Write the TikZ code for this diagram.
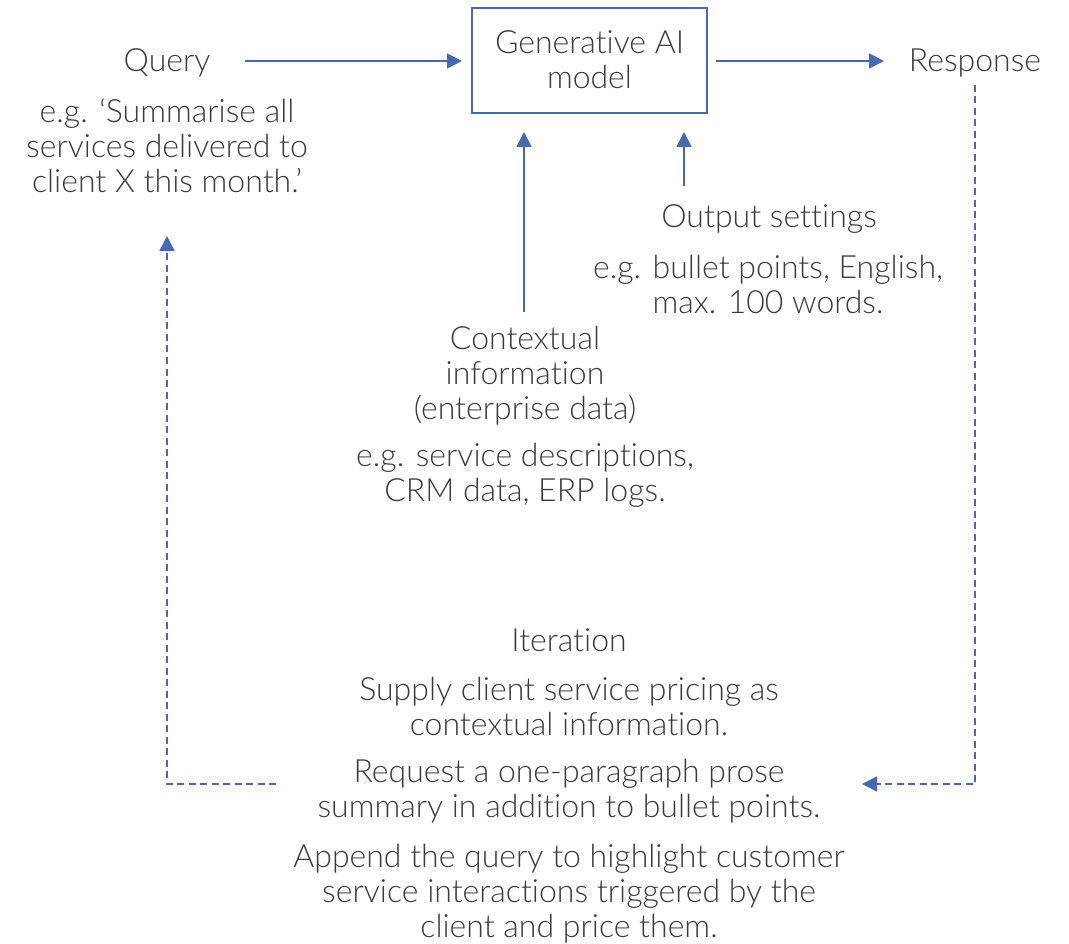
\documentclass[tikz,border=0pt]{standalone}
\usepackage{fontspec}
\setmainfont{Lato Light}[Ligatures={NoCommon,NoDiscretionary}]
\usetikzlibrary{arrows.meta}
\definecolor{arrowblue}{HTML}{4A67B2}
\definecolor{txtgray}{HTML}{3A3A3A}
\tikzset{
  txt/.style={text=txtgray, font=\fontsize{32}{35}\selectfont, align=center, inner sep=0pt},
  conn/.style={draw=arrowblue, line width=1.8pt, -{Triangle[length=15pt,width=15pt]}},
  dconn/.style={draw=arrowblue, line width=1.6pt, dash pattern=on 7pt off 4.5pt, -{Triangle[length=15pt,width=15pt]}},
  modelbox/.style={draw=arrowblue, line width=1.3pt, minimum width=235pt, minimum height=105pt, inner sep=0pt}
}
\begin{document}
\begin{tikzpicture}[x=1pt,y=-1pt]
\useasboundingbox (0,0) rectangle (1069,944);
% model box
\node[modelbox] (model) at (589.5,60.5) {};
\node[txt] (modeltxt) at (589.5,60) {Generative AI\\model};
% query
\node[txt] (query) at (167,63) {Query};
\node[txt] (queryex) at (167,146) {e.g. `Summarise all\\services delivered to\\client X this month.'};
% response
\node[txt] (resp) at (975,63) {Response};
% output settings
\node[txt] (outset) at (769,219) {Output settings};
\node[txt] (outex) at (768,284.5) {e.g. bullet points, English,\\max. 100 words.};
% contextual
\node[txt] (ctx) at (525,375.5) {Contextual\\information\\(enterprise data)};
\node[txt] (ctxex) at (525,475.5) {e.g. service descriptions,\\CRM data, ERP logs.};
% iteration
\node[txt] (iter) at (569,640) {Iteration};
\node[txt] (it1) at (569,706) {Supply client service pricing as\\contextual information.};
\node[txt] (it2) at (569,791.5) {Request a one-paragraph prose\\summary in addition to bullet points.};
\node[txt] (it3) at (569,893.5) {Append the query to highlight customer\\service interactions triggered by the\\client and price them.};
% coordinates
\coordinate (qs) at (245,61);
\coordinate (qe) at (462,61);
\coordinate (rs) at (716,61);
\coordinate (re) at (884,61);
\coordinate (cs) at (524,312);
\coordinate (ce) at (524,132);
\coordinate (os) at (684,186);
\coordinate (oe) at (684,132);
\coordinate (ls) at (276,784);
\coordinate (lc) at (167,784);
\coordinate (le) at (167,236);
\coordinate (rds) at (975,85);
\coordinate (rc) at (975,784);
\coordinate (rde) at (862,784);
% connectors
\draw[conn] (qs) -- (qe);
\draw[conn] (rs) -- (re);
\draw[conn] (cs) -- (ce);
\draw[conn] (os) -- (oe);
\draw[dconn] (ls) -- (lc) -- (le);
\draw[dconn] (rds) -- (rc) -- (rde);
\end{tikzpicture}
\end{document}
